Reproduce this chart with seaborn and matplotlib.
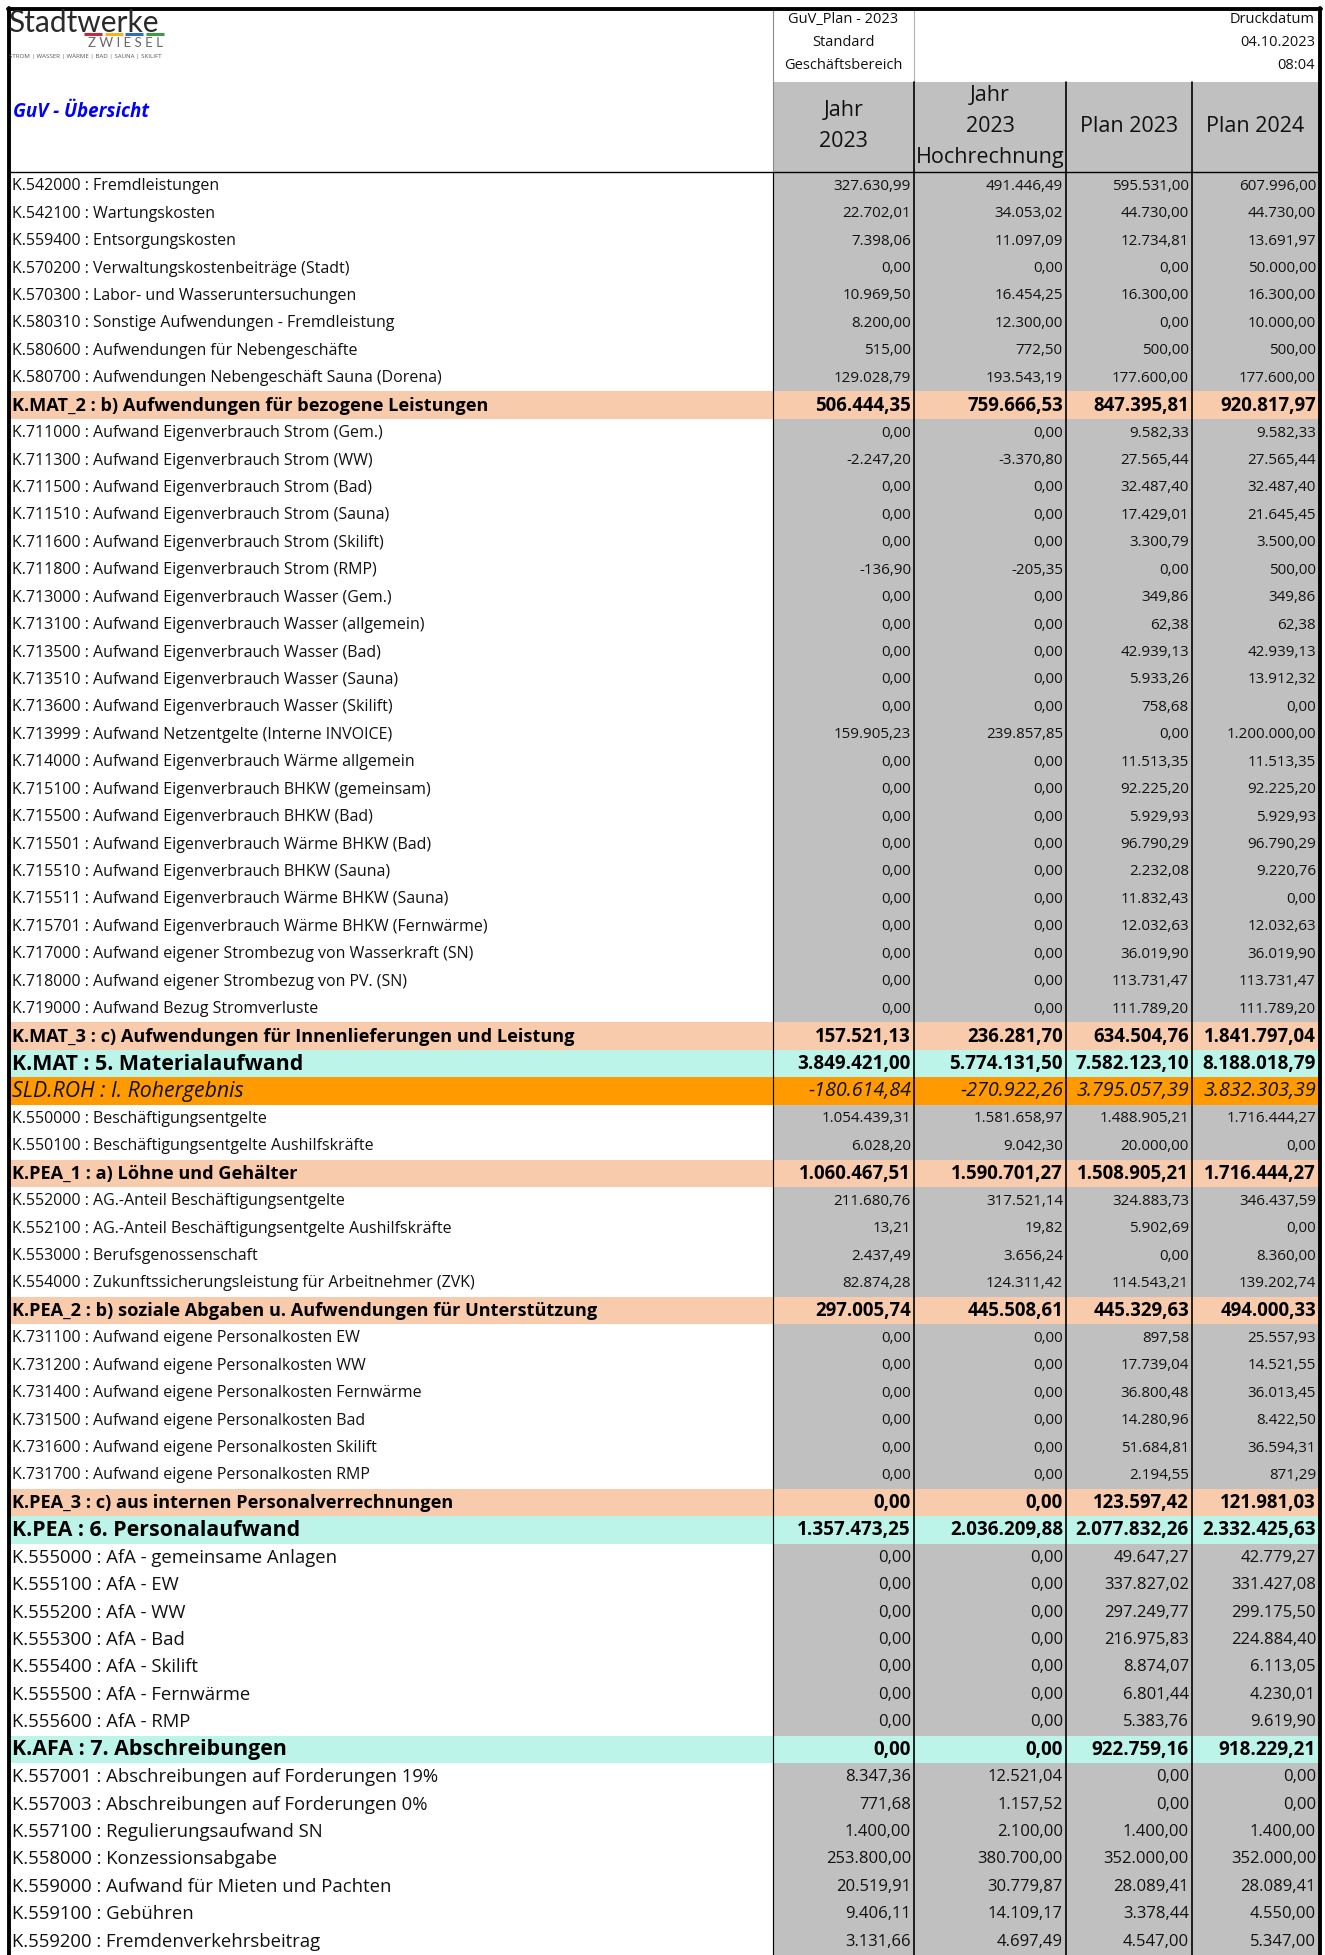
import matplotlib
matplotlib.use("Agg")
import matplotlib.pyplot as plt
from matplotlib.patches import Rectangle
import seaborn as sns

labels = [
    "K.542000 : Fremdleistungen",
    "K.542100 : Wartungskosten",
    "K.559400 : Entsorgungskosten",
    "K.570200 : Verwaltungskostenbeiträge (Stadt)",
    "K.570300 : Labor- und Wasseruntersuchungen",
    "K.580310 : Sonstige Aufwendungen - Fremdleistung",
    "K.580600 : Aufwendungen für Nebengeschäfte",
    "K.580700 : Aufwendungen Nebengeschäft Sauna (Dorena)",
    "K.MAT_2 : b) Aufwendungen für bezogene Leistungen",
    "K.711000 : Aufwand Eigenverbrauch Strom (Gem.)",
    "K.711300 : Aufwand Eigenverbrauch Strom (WW)",
    "K.711500 : Aufwand Eigenverbrauch Strom (Bad)",
    "K.711510 : Aufwand Eigenverbrauch Strom (Sauna)",
    "K.711600 : Aufwand Eigenverbrauch Strom (Skilift)",
    "K.711800 : Aufwand Eigenverbrauch Strom (RMP)",
    "K.713000 : Aufwand Eigenverbrauch Wasser (Gem.)",
    "K.713100 : Aufwand Eigenverbrauch Wasser (allgemein)",
    "K.713500 : Aufwand Eigenverbrauch Wasser (Bad)",
    "K.713510 : Aufwand Eigenverbrauch Wasser (Sauna)",
    "K.713600 : Aufwand Eigenverbrauch Wasser (Skilift)",
    "K.713999 : Aufwand Netzentgelte (Interne INVOICE)",
    "K.714000 : Aufwand Eigenverbrauch Wärme allgemein",
    "K.715100 : Aufwand Eigenverbrauch BHKW (gemeinsam)",
    "K.715500 : Aufwand Eigenverbrauch BHKW (Bad)",
    "K.715501 : Aufwand Eigenverbrauch Wärme BHKW (Bad)",
    "K.715510 : Aufwand Eigenverbrauch BHKW (Sauna)",
    "K.715511 : Aufwand Eigenverbrauch Wärme BHKW (Sauna)",
    "K.715701 : Aufwand Eigenverbrauch Wärme BHKW (Fernwärme)",
    "K.717000 : Aufwand eigener Strombezug von Wasserkraft (SN)",
    "K.718000 : Aufwand eigener Strombezug von PV. (SN)",
    "K.719000 : Aufwand Bezug Stromverluste",
    "K.MAT_3 : c) Aufwendungen für Innenlieferungen und Leistung",
    "K.MAT : 5. Materialaufwand",
    "SLD.ROH : I. Rohergebnis",
    "K.550000 : Beschäftigungsentgelte",
    "K.550100 : Beschäftigungsentgelte Aushilfskräfte",
    "K.PEA_1 : a) Löhne und Gehälter",
    "K.552000 : AG.-Anteil Beschäftigungsentgelte",
    "K.552100 : AG.-Anteil Beschäftigungsentgelte Aushilfskräfte",
    "K.553000 : Berufsgenossenschaft",
    "K.554000 : Zukunftssicherungsleistung für Arbeitnehmer (ZVK)",
    "K.PEA_2 : b) soziale Abgaben u. Aufwendungen für Unterstützung",
    "K.731100 : Aufwand eigene Personalkosten EW",
    "K.731200 : Aufwand eigene Personalkosten WW",
    "K.731400 : Aufwand eigene Personalkosten Fernwärme",
    "K.731500 : Aufwand eigene Personalkosten Bad",
    "K.731600 : Aufwand eigene Personalkosten Skilift",
    "K.731700 : Aufwand eigene Personalkosten RMP",
    "K.PEA_3 : c) aus internen Personalverrechnungen",
    "K.PEA : 6. Personalaufwand",
    "K.555000 : AfA - gemeinsame Anlagen",
    "K.555100 : AfA - EW",
    "K.555200 : AfA - WW",
    "K.555300 : AfA - Bad",
    "K.555400 : AfA - Skilift",
    "K.555500 : AfA - Fernwärme",
    "K.555600 : AfA - RMP",
    "K.AFA : 7. Abschreibungen",
    "K.557001 : Abschreibungen auf Forderungen 19%",
    "K.557003 : Abschreibungen auf Forderungen 0%",
    "K.557100 : Regulierungsaufwand SN",
    "K.558000 : Konzessionsabgabe",
    "K.559000 : Aufwand für Mieten und Pachten",
    "K.559100 : Gebühren",
    "K.559200 : Fremdenverkehrsbeitrag",
]

# n = Konto, s = Zwischensumme, t = Summe, r = Rohergebnis
row_kind = list("nnnnnnnns" + "nnnnnnnnnnnnnnnnnnnnnn" + "str" + "nns" + "nnnns"
                + "nnnnnns" + "t" + "nnnnnnn" + "t" + "nnnnnnn")

jahr_2023 = [327630.99, 22702.01, 7398.06, 0.00, 10969.50, 8200.00, 515.00, 129028.79,
             506444.35, 0.00, -2247.20, 0.00, 0.00, 0.00, -136.90, 0.00, 0.00, 0.00,
             0.00, 0.00, 159905.23, 0.00, 0.00, 0.00, 0.00, 0.00, 0.00, 0.00, 0.00,
             0.00, 0.00, 157521.13, 3849421.00, -180614.84, 1054439.31, 6028.20,
             1060467.51, 211680.76, 13.21, 2437.49, 82874.28, 297005.74, 0.00, 0.00,
             0.00, 0.00, 0.00, 0.00, 0.00, 1357473.25, 0.00, 0.00, 0.00, 0.00, 0.00,
             0.00, 0.00, 0.00, 8347.36, 771.68, 1400.00, 253800.00, 20519.91, 9406.11,
             3131.66]
jahr_2023_hr = [491446.49, 34053.02, 11097.09, 0.00, 16454.25, 12300.00, 772.50, 193543.19,
                759666.53, 0.00, -3370.80, 0.00, 0.00, 0.00, -205.35, 0.00, 0.00, 0.00,
                0.00, 0.00, 239857.85, 0.00, 0.00, 0.00, 0.00, 0.00, 0.00, 0.00, 0.00,
                0.00, 0.00, 236281.70, 5774131.50, -270922.26, 1581658.97, 9042.30,
                1590701.27, 317521.14, 19.82, 3656.24, 124311.42, 445508.61, 0.00, 0.00,
                0.00, 0.00, 0.00, 0.00, 0.00, 2036209.88, 0.00, 0.00, 0.00, 0.00, 0.00,
                0.00, 0.00, 0.00, 12521.04, 1157.52, 2100.00, 380700.00, 30779.87,
                14109.17, 4697.49]
plan_2023 = [595531.00, 44730.00, 12734.81, 0.00, 16300.00, 0.00, 500.00, 177600.00,
             847395.81, 9582.33, 27565.44, 32487.40, 17429.01, 3300.79, 0.00, 349.86,
             62.38, 42939.13, 5933.26, 758.68, 0.00, 11513.35, 92225.20, 5929.93,
             96790.29, 2232.08, 11832.43, 12032.63, 36019.90, 113731.47, 111789.20,
             634504.76, 7582123.10, 3795057.39, 1488905.21, 20000.00, 1508905.21,
             324883.73, 5902.69, 0.00, 114543.21, 445329.63, 897.58, 17739.04, 36800.48,
             14280.96, 51684.81, 2194.55, 123597.42, 2077832.26, 49647.27, 337827.02,
             297249.77, 216975.83, 8874.07, 6801.44, 5383.76, 922759.16, 0.00, 0.00,
             1400.00, 352000.00, 28089.41, 3378.44, 4547.00]
plan_2024 = [607996.00, 44730.00, 13691.97, 50000.00, 16300.00, 10000.00, 500.00, 177600.00,
             920817.97, 9582.33, 27565.44, 32487.40, 21645.45, 3500.00, 500.00, 349.86,
             62.38, 42939.13, 13912.32, 0.00, 1200000.00, 11513.35, 92225.20, 5929.93,
             96790.29, 9220.76, 0.00, 12032.63, 36019.90, 113731.47, 111789.20,
             1841797.04, 8188018.79, 3832303.39, 1716444.27, 0.00, 1716444.27,
             346437.59, 0.00, 8360.00, 139202.74, 494000.33, 25557.93, 14521.55,
             36013.45, 8422.50, 36594.31, 871.29, 121981.03, 2332425.63, 42779.27,
             331427.08, 299175.50, 224884.40, 6113.05, 4230.01, 9619.90, 918229.21,
             0.00, 0.00, 1400.00, 352000.00, 28089.41, 4550.00, 5347.00]

col_headers = [["Jahr", "2023"], ["Jahr", "2023", "Hochrechnung"], ["Plan 2023"], ["Plan 2024"]]
report_info = ["GuV_Plan - 2023", "Standard", "Geschäftsbereich"]
print_info = ["Druckdatum", "04.10.2023", "08:04"]


def fmt(v):
    s = f"{v:,.2f}"
    return s.replace(",", "#").replace(".", ",").replace("#", ".")


sns.set_theme(style="white")
plt.rcParams["font.family"] = ["Open Sans", "DejaVu Sans"]

W, H = 1325, 1955
fig = plt.figure(figsize=(W / 100, H / 100), dpi=100)
ax = fig.add_axes([0, 0, 1, 1])
ax.set_xlim(0, W)
ax.set_ylim(H, 0)
ax.axis("off")

# layout (pixels)
x0 = 10
edges = [773, 914, 1066, 1192, 1319]
top = 10
head_mid = 82
head_bot = 172
rh = (H - head_bot) / len(labels)

gray = "#C0C0C0"
colors = {"s": "#F8CBAD", "t": "#BDF4EA", "r": "#FF9A00"}

# header
ax.add_patch(Rectangle((edges[0], head_mid), edges[-1] - edges[0], head_bot - head_mid,
                       facecolor=gray, edgecolor="none"))
for i, lines in enumerate(col_headers):
    xc = (edges[i] + edges[i + 1]) / 2
    n = len(lines)
    yc = (head_mid + head_bot) / 2 - 1
    for k, t in enumerate(lines):
        ax.text(xc, yc + (k - (n - 1) / 2) * 31, t, ha="center", va="center",
                fontsize=15.5, color="#111111")

for k, t in enumerate(report_info):
    ax.text((edges[0] + edges[1]) / 2, 19 + k * 23, t, ha="center", va="center",
            fontsize=10.5, color="#111111")
    ax.text(edges[-1] - 4, 19 + k * 23, print_info[k], ha="right", va="center",
            fontsize=10.5, color="#111111")

# logo
ax.text(8, 32, "Stadtwerke", ha="left", va="baseline", fontsize=21.5, color="#2a2a2a",
        family=["Lato", "DejaVu Sans"])
logo_cols = ["#C8283C", "#F0B428", "#2D6EB4", "#3C9B46"]
for k, c in enumerate(logo_cols):
    ax.plot([84 + k * 20.5, 102 + k * 20.5], [34, 34], color=c, lw=2.2, solid_capstyle="butt")
ax.text(163, 43, "Z W I E S E L", ha="right", va="center", fontsize=9.5, color="#666666",
        family=["Lato", "DejaVu Sans"])
ax.text(9, 56, "STROM | WASSER | WÄRME | BAD | SAUNA | SKILIFT", ha="left", va="center",
        fontsize=4.4, color="#555555")

ax.text(13, 112, "GuV - Übersicht", ha="left", va="center", fontsize=13.5,
        fontweight="bold", fontstyle="italic", color="#0000FF")

# rows
series = [jahr_2023, jahr_2023_hr, plan_2023, plan_2024]
for i, (lab, kind) in enumerate(zip(labels, row_kind)):
    y = head_bot + i * rh
    yc = y + rh / 2 + 0.5
    if kind == "n":
        ax.add_patch(Rectangle((edges[0], y), edges[-1] - edges[0], rh,
                               facecolor=gray, edgecolor="none"))
        if i < 50:
            style = dict(fontsize=11.5, color="#111111")
            vstyle = dict(fontsize=10.9, color="#111111")
        else:
            style = dict(fontsize=13.3, color="#111111")
            vstyle = dict(fontsize=12.0, color="#111111")
    else:
        ax.add_patch(Rectangle((x0, y), edges[-1] - x0, rh,
                               facecolor=colors[kind], edgecolor="none"))
        if kind == "s":
            style = dict(fontsize=13.1, fontweight="bold", color="#000000")
            vstyle = dict(fontsize=13.4, fontweight="bold", color="#000000")
        elif kind == "t":
            style = dict(fontsize=15.4, fontweight="bold", color="#000000")
            vstyle = dict(fontsize=13.6, fontweight="bold", color="#000000")
        else:
            style = dict(fontsize=15.3, fontstyle="italic", color="#111111")
            vstyle = dict(fontsize=14.2, fontstyle="italic", color="#111111")
    ax.text(x0 + 2, yc, lab, ha="left", va="center", **style)
    for j, s in enumerate(series):
        ax.text(edges[j + 1] - 3, yc, fmt(s[i]), ha="right", va="center", **vstyle)

# grid lines
ax.plot([x0, edges[-1]], [head_bot, head_bot], color="black", lw=1.0)
ax.plot([edges[0], edges[0]], [top, H], color="#8a8a8a", lw=0.8)
ax.plot([edges[0], edges[0]], [head_bot, H], color="black", lw=0.8)
ax.plot([edges[1], edges[1]], [top, head_mid], color="#b0b0b0", lw=0.8)
for xe in edges[1:-1]:
    ax.plot([xe, xe], [head_mid, H], color="black", lw=1.2)
ax.plot([x0 - 1, x0 - 1], [top - 2, H], color="black", lw=2.8)
ax.plot([edges[-1] + 1, edges[-1] + 1], [top - 2, H], color="black", lw=2.8)
ax.plot([x0 - 2, edges[-1] + 2], [top - 1, top - 1], color="black", lw=2.8)

fig.savefig("out.png", dpi=100)
